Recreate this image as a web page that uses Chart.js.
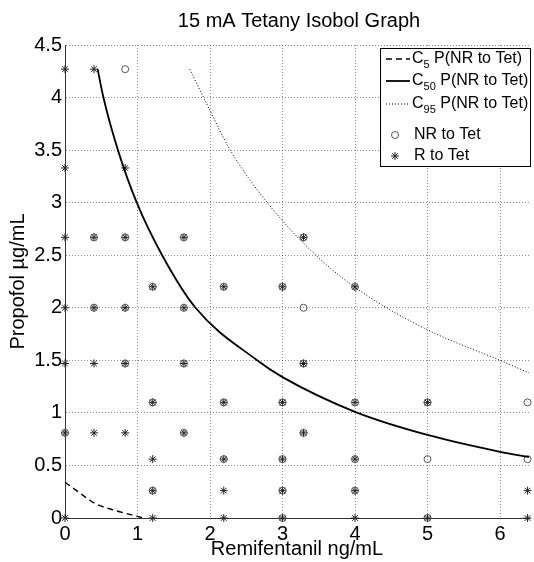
<!DOCTYPE html>
<html>
<head>
<meta charset="utf-8">
<script src="https://cdn.jsdelivr.net/npm/chart.js@4.4.1/dist/chart.umd.min.js"></script>
<style>
  body { margin: 0; background: #fff; }
</style>
</head>
<body>
<canvas id="chart" width="534" height="562"></canvas>
<script>
// data
const chartTitle = '15 mA Tetany Isobol Graph';
const xTitle = 'Remifentanil ng/mL';
const yTitle = 'Propofol µg/mL';

const xTicks = [0, 1, 2, 3, 4, 5, 6];
const yTicks = [0, 0.5, 1, 1.5, 2, 2.5, 3, 3.5, 4, 4.5];

// model curves [remifentanil, propofol]
const c5Curve = [[0, 0.34], [0.2, 0.24], [0.41, 0.14], [0.7, 0.07], [1.0, 0.015], [1.08, 0]];
const c50Curve = [[0.45, 4.27], [0.53, 4.0], [0.73, 3.5], [0.99, 3.0], [1.34, 2.5], [1.8, 2.0],
                  [2.65, 1.5], [3, 1.34], [4, 1.01], [5, 0.79], [6, 0.63], [6.4, 0.58]];
const c95Curve = [[1.72, 4.27], [1.94, 3.96], [2.28, 3.5], [2.79, 3.0], [3.46, 2.5], [4.05, 2.17],
                  [5, 1.79], [6, 1.5], [6.4, 1.38]];

// observed responses
const nrToTet = [
  [0.83, 4.27],
  [0.4, 2.67], [0.83, 2.67], [1.64, 2.67], [3.29, 2.67],
  [1.21, 2.2], [2.19, 2.2], [3, 2.2], [4, 2.2],
  [0.4, 2.0], [0.83, 2.0], [1.64, 2.0], [3.29, 2.0],
  [0.83, 1.47], [1.64, 1.47], [3.29, 1.47],
  [1.21, 1.1], [2.19, 1.1], [3, 1.1], [4, 1.1], [5, 1.1], [6.38, 1.1],
  [0, 0.81], [1.64, 0.81], [3.29, 0.81],
  [2.19, 0.56], [3, 0.56], [4, 0.56], [5, 0.56], [6.38, 0.56],
  [1.21, 0.26], [3, 0.26], [4, 0.26],
  [3, 0], [5, 0]
];
const rToTet = [
  [0, 4.27], [0.4, 4.27],
  [0, 3.33], [0.83, 3.33],
  [0, 2.67], [0.4, 2.67], [0.83, 2.67], [1.64, 2.67], [3.29, 2.67],
  [1.21, 2.2], [2.19, 2.2], [3, 2.2], [4, 2.2],
  [0, 2.0], [0.4, 2.0], [0.83, 2.0], [1.64, 2.0],
  [0, 1.47], [0.4, 1.47], [0.83, 1.47], [1.64, 1.47], [3.29, 1.47],
  [1.21, 1.1], [2.19, 1.1], [3, 1.1], [4, 1.1], [5, 1.1],
  [0, 0.81], [0.4, 0.81], [0.83, 0.81], [1.64, 0.81], [3.29, 0.81],
  [1.21, 0.56], [2.19, 0.56], [3, 0.56], [4, 0.56],
  [1.21, 0.26], [2.19, 0.26], [3, 0.26], [4, 0.26], [6.38, 0.26],
  [0, 0], [1.21, 0], [2.19, 0], [3, 0], [4, 0], [5, 0], [6.38, 0]
];

// legend text: main letter, subscript, rest
const legendText = [
  ['C', '5', ' P(NR to Tet)'],
  ['C', '50', ' P(NR to Tet)'],
  ['C', '95', ' P(NR to Tet)'],
  ['', '', 'NR to Tet'],
  ['', '', 'R to Tet']
];
const legendRows = [59, 81, 104, 135, 156];

const FONT = "'Liberation Sans', Arial, sans-serif";
const toXY = arr => arr.map(p => ({ x: p[0], y: p[1] }));

// title centred over the plot area, like the original
const titlePlugin = {
  id: 'plotTitle',
  afterDraw(chart) {
    const ctx = chart.ctx;
    const area = chart.chartArea;
    ctx.save();
    ctx.font = '20px ' + FONT;
    ctx.fillStyle = '#000';
    ctx.textAlign = 'center';
    ctx.textBaseline = 'middle';
    ctx.fillText(chartTitle, (area.left + area.right) / 2 + 2, 21);
    ctx.restore();
  }
};

// boxed legend with subscripts
const legendPlugin = {
  id: 'isoLegend',
  afterDraw(chart) {
    const ctx = chart.ctx;
    ctx.save();
    ctx.fillStyle = '#fff';
    ctx.fillRect(380.5, 48.5, 150, 118);
    ctx.strokeStyle = '#000';
    ctx.lineWidth = 1;
    ctx.strokeRect(380.5, 48.5, 150, 118);

    chart.data.datasets.forEach((ds, i) => {
      const y = legendRows[i];
      let tx = 412;
      if (ds.showLine) {
        ctx.setLineDash(ds.borderDash || []);
        ctx.strokeStyle = ds.borderColor;
        ctx.lineWidth = ds.borderWidth;
        ctx.beginPath();
        ctx.moveTo(386, y);
        ctx.lineTo(410, y);
        ctx.stroke();
        ctx.setLineDash([]);
      } else {
        ctx.strokeStyle = ds.pointBorderColor;
        ctx.fillStyle = 'rgba(0,0,0,0)';
        Chart.helpers.drawPoint(ctx, {
          pointStyle: ds.pointStyle,
          radius: ds.pointRadius,
          borderWidth: ds.pointBorderWidth,
          rotation: 0
        }, 395, y);
        tx = 414;
      }
      const t = legendText[i];
      ctx.fillStyle = '#000';
      ctx.textBaseline = 'middle';
      ctx.textAlign = 'left';
      ctx.font = '16px ' + FONT;
      if (t[0]) {
        ctx.fillText(t[0], tx, y);
        tx += ctx.measureText(t[0]).width;
        ctx.font = '11px ' + FONT;
        ctx.fillText(t[1], tx, y + 6);
        tx += ctx.measureText(t[1]).width;
        ctx.font = '16px ' + FONT;
      }
      ctx.fillText(t[2], tx, y);
    });
    ctx.restore();
  }
};

const gridStyle = {
  color: 'rgba(0,0,0,0.45)',
  lineWidth: 1,
  drawTicks: false
};
const borderStyle = { display: true, color: '#333', width: 1, dash: [1, 2] };

new Chart(document.getElementById('chart').getContext('2d'), {
  type: 'scatter',
  data: {
    datasets: [
      {
        label: 'C5 P(NR to Tet)',
        data: toXY(c5Curve),
        showLine: true,
        borderColor: '#000',
        borderWidth: 1.4,
        borderDash: [6, 4],
        pointRadius: 0,
        cubicInterpolationMode: 'monotone',
        clip: false
      },
      {
        label: 'C50 P(NR to Tet)',
        data: toXY(c50Curve),
        showLine: true,
        borderColor: '#000',
        borderWidth: 1.8,
        pointRadius: 0,
        cubicInterpolationMode: 'monotone',
        clip: false
      },
      {
        label: 'C95 P(NR to Tet)',
        data: toXY(c95Curve),
        showLine: true,
        borderColor: '#000',
        borderWidth: 1,
        borderDash: [1, 2],
        pointRadius: 0,
        cubicInterpolationMode: 'monotone',
        clip: false
      },
      {
        label: 'NR to Tet',
        data: toXY(nrToTet),
        pointStyle: 'circle',
        pointRadius: 3.5,
        pointBorderWidth: 1,
        pointBorderColor: '#555',
        pointBackgroundColor: 'rgba(0,0,0,0)',
        clip: false
      },
      {
        label: 'R to Tet',
        data: toXY(rToTet),
        pointStyle: 'star',
        pointRadius: 4,
        pointBorderWidth: 1,
        pointBorderColor: '#222',
        pointBackgroundColor: 'rgba(0,0,0,0)',
        clip: false
      }
    ]
  },
  options: {
    responsive: false,
    animation: false,
    layout: { padding: { top: 45, right: 3, left: 0, bottom: 0 } },
    plugins: {
      legend: { display: false },
      tooltip: { enabled: false }
    },
    scales: {
      x: {
        type: 'linear',
        min: 0,
        max: 6.4,
        afterFit: scale => { scale.height = 44; },
        afterBuildTicks: scale => { scale.ticks = xTicks.map(v => ({ value: v })); },
        ticks: {
          padding: 4,
          color: '#000',
          font: { family: FONT, size: 20 },
          callback: v => String(v)
        },
        grid: gridStyle,
        border: borderStyle,
        title: {
          display: true,
          text: xTitle,
          color: '#000',
          font: { family: FONT, size: 20 },
          padding: { top: 0, bottom: 1 }
        }
      },
      y: {
        type: 'linear',
        min: 0,
        max: 4.5,
        afterFit: scale => { scale.width = 65; },
        afterBuildTicks: scale => { scale.ticks = yTicks.map(v => ({ value: v })); },
        ticks: {
          padding: 3,
          color: '#000',
          font: { family: FONT, size: 20 },
          callback: v => String(v)
        },
        grid: gridStyle,
        border: borderStyle,
        title: {
          display: true,
          text: yTitle,
          color: '#000',
          font: { family: FONT, size: 20 },
          padding: { top: 6, bottom: 0 }
        }
      }
    }
  },
  plugins: [titlePlugin, legendPlugin]
});
</script>
</body>
</html>
